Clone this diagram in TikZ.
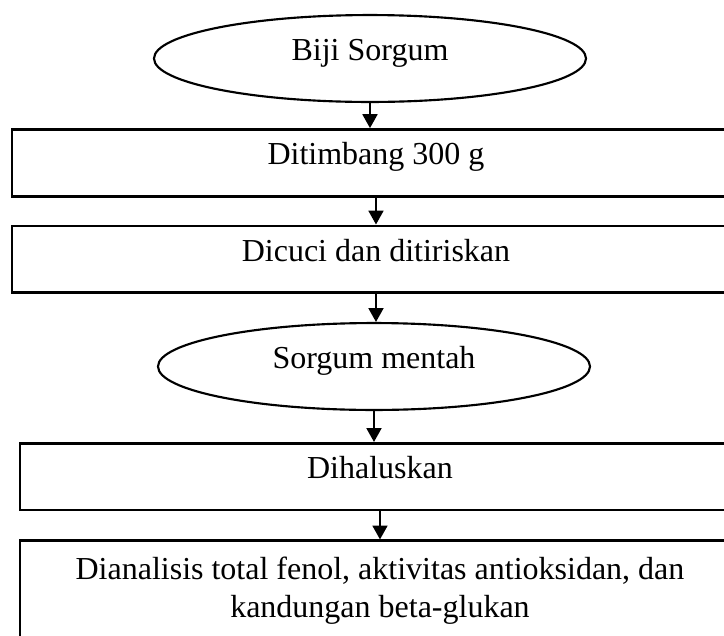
\documentclass[tikz,border=0pt]{standalone}
\usepackage{fontspec}
\setmainfont{Liberation Serif}
\usetikzlibrary{shapes.geometric, arrows.meta, positioning}

\begin{document}
\begin{tikzpicture}[
  node distance=10pt,
  lift/.style={text height=8.2pt, text depth=6.6pt},
  oval/.style={ellipse, draw, line width=0.8pt, minimum width=162pt, minimum height=32.6pt, font=\fontsize{12}{14.5}\selectfont, lift},
  stepbox/.style={rectangle, draw, line width=0.95pt, minimum width=273pt, minimum height=25.1pt, font=\fontsize{12}{14.5}\selectfont, align=center},
  arrow/.style={-{Triangle[width=5.6pt,length=5.2pt]}, line width=0.75pt}
]
  \useasboundingbox (-138.75pt,21.94pt) rectangle (132.75pt,-216.19pt);
  \clip (-138.75pt,21.94pt) rectangle (132.75pt,-216.19pt);

  \node[oval] (biji) {Biji Sorgum};
  \node[stepbox, lift, below=9.4pt of biji, xshift=2.25pt] (timbang) {Ditimbang 300 g};
  \node[stepbox, lift, below=10.1pt of timbang] (cuci) {Dicuci dan ditiriskan};
  \node[oval, below=10.5pt of cuci, xshift=-0.75pt] (mentah) {Sorgum mentah};
  \node[stepbox, lift, minimum width=270pt, below=11.6pt of mentah, xshift=2.25pt] (halus) {Dihaluskan};
  \node[stepbox, minimum width=270pt, minimum height=37.5pt, below=10.5pt of halus] (analisis) {Dianalisis total fenol, aktivitas antioksidan, dan\\ kandungan beta-glukan};

  \draw[arrow] (biji.south) -- (biji.south |- timbang.north);
  \draw[arrow] (timbang) -- (cuci);
  \draw[arrow] (cuci.south) -- (cuci.south |- mentah.north);
  \draw[arrow] (mentah.south) -- (mentah.south |- halus.north);
  \draw[arrow] (halus) -- (analisis);
\end{tikzpicture}
\end{document}
